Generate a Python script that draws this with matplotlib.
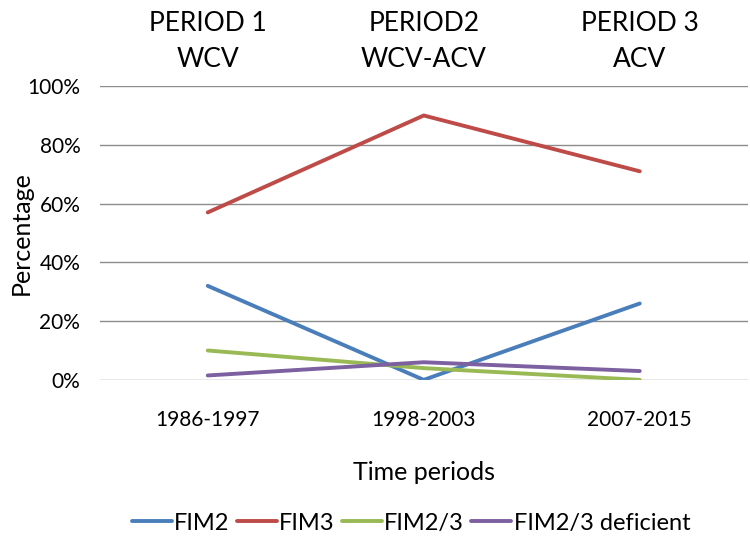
import numpy as np
import matplotlib.pyplot as plt
from matplotlib.transforms import blended_transform_factory

plt.rcParams['font.family'] = ['Lato', 'DejaVu Sans']

periods = ['1986-1997', '1998-2003', '2007-2015']
headers = ['PERIOD 1\nWCV', 'PERIOD2\nWCV-ACV', 'PERIOD 3\nACV']
fim2 = [32, 0, 26]
fim3 = [57, 90, 71]
fim23 = [10, 4, 0]
fim23_def = [1.5, 6, 3]

series = [('FIM2', fim2, '#4a7ebb'),
          ('FIM3', fim3, '#be4b48'),
          ('FIM2/3', fim23, '#98b954'),
          ('FIM2/3 deficient', fim23_def, '#7d60a0')]

fig = plt.figure(figsize=(7.5, 5.45), dpi=100)
ax = fig.add_axes([0.133, 0.303, 0.864, 0.539])

x = np.arange(len(periods))
for name, vals, col in series:
    ax.plot(x, vals, color=col, lw=2.8, label=name, solid_capstyle='round')

ax.set_xlim(-0.5, 2.5)
ax.set_ylim(0, 100)
ax.set_yticks(range(0, 101, 20))
ax.set_yticklabels([f'{v}%' for v in range(0, 101, 20)], fontsize=15)
ax.set_xticks(x)
ax.set_xticklabels(periods, fontsize=15)
ax.tick_params(axis='x', length=0, pad=22)
ax.tick_params(axis='y', length=0, pad=14)
ax.grid(axis='y', color='#8c8c8c', lw=1)
ax.set_axisbelow(True)
for s in ax.spines.values():
    s.set_visible(False)

ax.set_ylabel('Percentage', fontsize=18)
ax.yaxis.set_label_coords(-0.103, 0.5)
ax.set_xlabel('Time periods', fontsize=18, labelpad=22)

trans = blended_transform_factory(ax.transData, fig.transFigure)
for xi, h in zip(x, headers):
    ax.text(xi, 0.98, h, transform=trans, ha='center', va='top',
            fontsize=19, linespacing=1.55)

fig.legend(loc='center', bbox_to_anchor=(0.548, 0.04), ncol=4,
           frameon=False, fontsize=17, handlelength=1.7, handletextpad=0.1,
           columnspacing=0.3)

fig.savefig('out.png', dpi=100)
